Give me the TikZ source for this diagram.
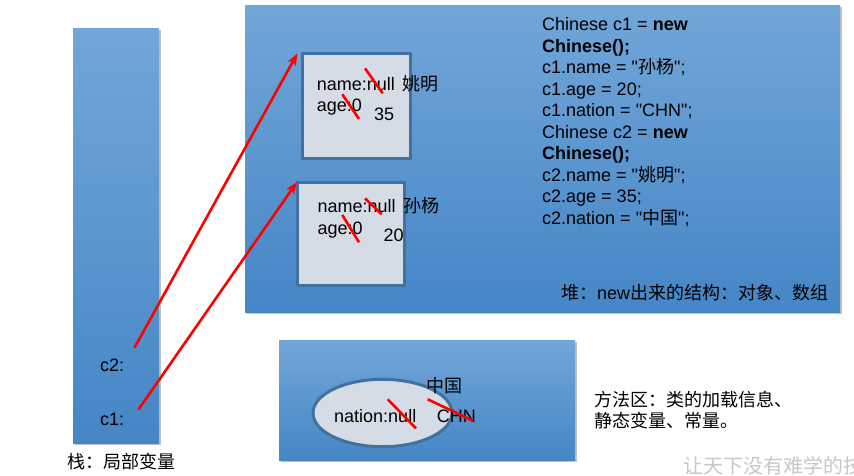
\documentclass[tikz,border=0pt]{standalone}
\usepackage{fontspec}
\setmainfont{Liberation Sans}[Ligatures=TeXOff]
\newfontfamily\cjk{Noto Sans CJK SC}
\definecolor{topblue}{HTML}{72A6D9}
\definecolor{botblue}{HTML}{4586C6}
\definecolor{objfill}{HTML}{D6DCE5}
\definecolor{objline}{HTML}{41719C}
\definecolor{pen}{HTML}{FF0000}
\usetikzlibrary{arrows.meta,shapes.geometric,shadows}
\tikzset{
  area/.style={top color=topblue,bottom color=botblue,draw=none,anchor=north west,inner sep=0pt,
               drop shadow={shadow xshift=1.5pt,shadow yshift=-2pt,opacity=.35,fill=black!70}},
  arr/.style={-{Stealth[length=12pt,width=9pt,inset=3pt]},line width=2.6pt,pen},
  lbl/.style={inner sep=0pt,anchor=base west}
}
\begin{document}
\begin{tikzpicture}[x=1pt,y=-1pt,font=\fontsize{18}{21.5}\selectfont]
    \tikzset{obj/.style={draw=objline,line width=3pt,fill=objfill,inner sep=0pt,outer sep=0pt},
             cut/.style={draw=pen,line width=2.6pt}}
    \useasboundingbox (0,0) rectangle (854,476);
    \node[area,minimum width=86pt,minimum height=415pt]  (stack)  at (73,28)  {};
    \node[area,minimum width=595pt,minimum height=307pt] (heap)   at (245,5)  {};
    \node[area,minimum width=296pt,minimum height=120pt] (method) at (279,340) {};
    \node[obj,anchor=north west,minimum width=107.5pt,minimum height=105pt]   (yao) at (302.5,53.3) {};
    \node[obj,anchor=north west,minimum width=107.5pt,minimum height=103.7pt] (sun) at (297,182) {};
    \node[obj,ellipse,minimum width=139pt,minimum height=67.4pt] (nat) at (382.5,413) {};
    % stack
    \node[lbl] (c2) at (100,371) {c2:};
    \node[lbl] (c1) at (100,425) {c1:};
    \node[inner sep=0pt,anchor=base] (stacklbl) at (121,468) {\cjk 栈：局部变量};
    % heap
    \node[lbl] (yaoname) at (316.7,90.7)  {name:null\hspace{3pt} {\cjk 姚明}};
    \node[lbl] (yaoage)  at (316.7,111.7) {age:0};
    \node[lbl] (yaonew)  at (374,120.7)   {35};
    \node[lbl] (sunname) at (317.3,212.3) {name:null\hspace{3pt} {\cjk 孙杨}};
    \node[lbl] (sunage)  at (317.3,234.3) {age:0};
    \node[lbl] (sunnew)  at (383.3,241.7) {20};
    \node[inner sep=0pt,anchor=north west,align=left] (code) at (542,17.3)
          {Chinese c1 = \textbf{new}\\
           \textbf{Chinese();}\\
           c1.name = "{\cjk 孙杨}";\\
           c1.age = 20;\\
           c1.nation = "CHN";\\
           Chinese c2 = \textbf{new}\\
           \textbf{Chinese();}\\
           c2.name = "{\cjk 姚明}";\\
           c2.age = 35;\\
           c2.nation = "{\cjk 中国}";};
    \node[lbl] (heaplbl) at (561,299) {{\cjk 堆：}new{\cjk 出来的结构：对象、数组}};
    % method area
    \node[lbl] (natname) at (334,422.3)   {nation:null};
    \node[lbl] (natold)  at (436.7,422.3) {CHN};
    \node[inner sep=0pt,anchor=west] (natnew) at (426,386) {\cjk 中国};
    \node[inner sep=0pt,anchor=west,align=left,font=\fontsize{18}{21}\selectfont\cjk] (methlbl) at (594,410)
          {方法区：类的加载信息、\\静态变量、常量。};
    \node[inner sep=0pt,anchor=west,text=black!22,font=\fontsize{20}{20}\selectfont\cjk] (mark) at (683,466)
          {让天下没有难学的技术};
    % references
    \draw[arr] ([xshift=10pt,yshift=10.4pt]c2.north east) -- ([xshift=-5pt]yao.north west);
    \draw[arr] ([xshift=14pt,yshift=2.8pt]c1.north east) -- (sun.north west);
    % overwritten values
    \draw[cut] (365,68.3)  -- (382.7,93.3);
    \draw[cut] (342.3,94.3) -- (359,119);
    \draw[cut] (365,198.3) -- (381.7,214.3);
    \draw[cut] (342.3,215) -- (359,242.3);
    \draw[cut] (387.7,399.3) -- (416,428.3);
    \draw[cut] (427.7,399.3) -- (473.3,421);
\end{tikzpicture}
\end{document}
